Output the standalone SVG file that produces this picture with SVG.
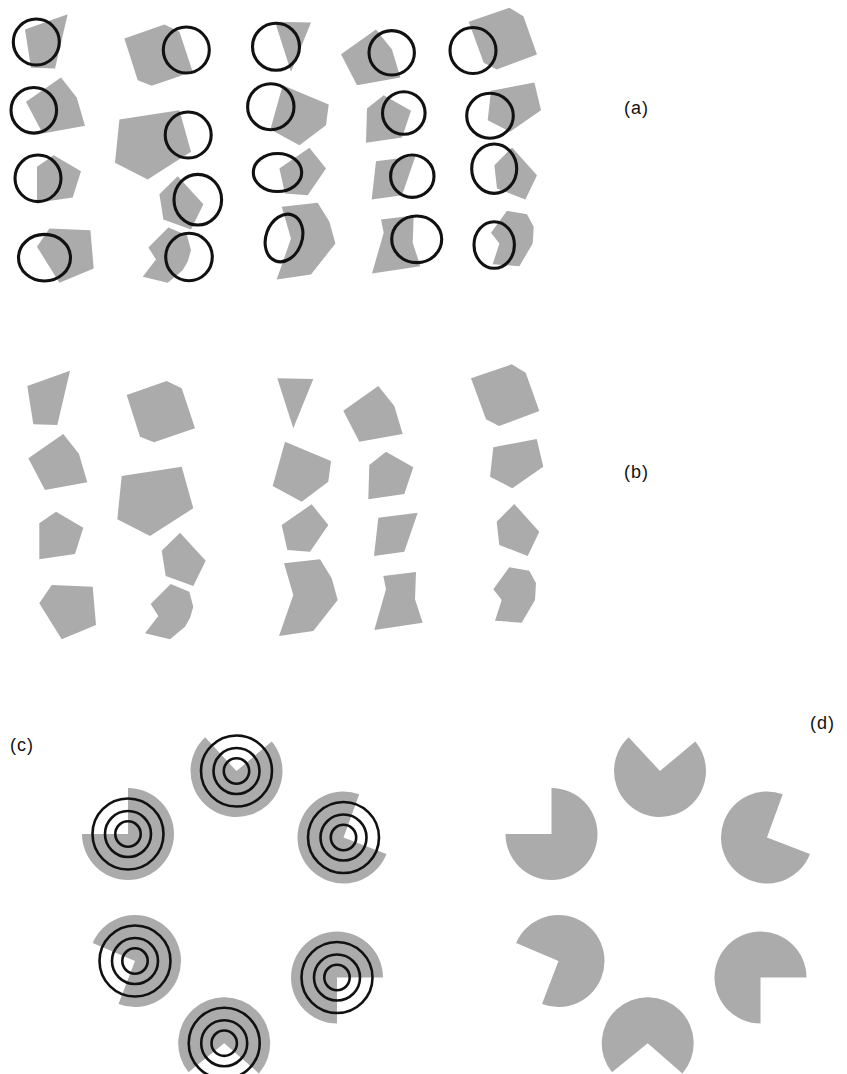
<svg xmlns="http://www.w3.org/2000/svg" xmlns:xlink="http://www.w3.org/1999/xlink" width="847" height="1074" viewBox="0 0 847 1074">
<style>
.sh{fill:#ababab;stroke:none}
.ring{fill:none;stroke:#111;stroke-width:2.6}
.oval{fill:none;stroke:#111;stroke-width:3.1}
.lbl{font-family:"Liberation Sans",Arial,sans-serif;font-size:18px;fill:#111;letter-spacing:1px}
</style>
<defs>
<g id="shapes">
<polygon class="sh" points="27.3,386 70,370.7 57.3,425 33.3,424.3"/>
<polygon class="sh" points="28.3,458.3 63.3,434 79,454 87.3,482.3 45,490"/>
<polygon class="sh" points="39.3,523.3 56,511.7 83.3,527.7 75,554 39.3,559.3"/>
<polygon class="sh" points="39.3,603.3 51.7,585 92.7,586.7 96,625 61.7,639.3"/>
<polygon class="sh" points="126.7,395 166.7,381 181.7,388.3 195,428.3 154,442.3 140,436.7"/>
<polygon class="sh" points="121.7,476 181.7,466.7 193.3,508.3 150,536 117.3,519.3"/>
<polygon class="sh" points="161.7,550.7 180,532.7 205.7,560.7 193.3,586 165.7,576"/>
<polygon class="sh" points="150.7,604 170.7,584 189.3,591.7 193.3,606.7 190,618 185,626.7 170,639.3 145,633.3 158.3,616"/>
<polygon class="sh" points="277.3,378.3 313.3,379 293.3,428.3"/>
<polygon class="sh" points="285,441.7 331,461 328.3,481.7 301.7,501.7 272.7,486"/>
<polygon class="sh" points="281.7,525 311.7,504.3 328.3,525 310,551.7 287.3,550"/>
<polygon class="sh" points="284,563.3 320,559.3 331.7,578.3 337.7,600 313.3,631 279,636 293.3,595"/>
<polygon class="sh" points="343.3,410.7 378.3,386 394.3,406 402.7,434 359.3,441.7"/>
<polygon class="sh" points="369.3,465 386,451.7 413.3,467.3 404.3,494 368.3,499.3"/>
<polygon class="sh" points="378.3,517.7 417.7,512.7 404.3,551.7 374,556"/>
<polygon class="sh" points="383.3,576 416,572 415,599.3 422.7,622.7 374.3,630 386,589.3"/>
<polygon class="sh" points="471,378.3 511.7,364.3 525.7,372.7 539.3,411 499,426 486,419.3"/>
<polygon class="sh" points="493.3,447.3 536.7,439 543.3,466.7 512.3,488.3 490,476.7"/>
<polygon class="sh" points="496.7,521.7 514.3,504 539.3,531.7 527.7,556 499.3,545"/>
<polygon class="sh" points="493.3,589.3 509.3,567.3 529.3,570.7 536,583.3 535,600 521.7,622.7 495,620.7 501.7,600"/>
</g>
<g id="pacmen">
<path class="sh" d="M660,771 L695.24,741.43 A46,46 0 1 1 628.63,737.36 Z"/>
<path class="sh" d="M551.5,834 L551.5,788 A46,46 0 1 1 505.5,834 Z"/>
<path class="sh" d="M767,837.5 L809.95,853.99 A46,46 0 1 1 782.73,794.27 Z"/>
<path class="sh" d="M558.5,961 L516.16,943.03 A46,46 0 1 1 542.01,1003.95 Z"/>
<path class="sh" d="M760.5,977.5 L760.5,1023.5 A46,46 0 1 1 806.5,977.5 Z"/>
<path class="sh" d="M647.7,1043.2 L611.95,1072.15 A46,46 0 1 1 682.42,1073.38 Z"/>
</g>
<g id="rings">
<circle r="35.5"/><circle r="23"/><circle r="12.7"/>
</g>
</defs>
<rect width="847" height="1074" fill="#fff"/>

<g id="panel-a">
<use xlink:href="#shapes" transform="translate(-2.3,-356.5)"/>
<g class="oval">
<ellipse cx="36.3" cy="42" rx="23" ry="23"/>
<ellipse cx="33.8" cy="110.3" rx="22.8" ry="22.8"/>
<ellipse cx="38" cy="178.3" rx="23" ry="23.3"/>
<ellipse cx="44.5" cy="257.7" rx="26" ry="23.3"/>
<ellipse cx="186.3" cy="50" rx="23" ry="23"/>
<ellipse cx="188.2" cy="135" rx="23" ry="23"/>
<ellipse cx="197.8" cy="199.7" rx="23.8" ry="25.3"/>
<ellipse cx="189" cy="257" rx="23.3" ry="23.7"/>
<ellipse cx="276" cy="46.7" rx="23.5" ry="23.5"/>
<ellipse cx="270.8" cy="106.7" rx="23.2" ry="23"/>
<ellipse cx="277.5" cy="172.5" rx="24.2" ry="19"/>
<ellipse cx="284" cy="238" rx="18" ry="24.5" transform="rotate(20 284 238)"/>
<ellipse cx="391.7" cy="52.8" rx="22.7" ry="22.2"/>
<ellipse cx="403.8" cy="113" rx="21.3" ry="21.3"/>
<ellipse cx="412.3" cy="176.2" rx="21.7" ry="21.2"/>
<ellipse cx="416.7" cy="239.3" rx="25" ry="23.3"/>
<ellipse cx="473" cy="50.5" rx="23" ry="23"/>
<ellipse cx="490" cy="115.8" rx="23.3" ry="22.5"/>
<ellipse cx="494.2" cy="168.7" rx="22.5" ry="24.7"/>
<ellipse cx="494.2" cy="245" rx="20.2" ry="23.3"/>
</g>
<text class="lbl" x="624" y="114">(a)</text>
</g>

<g id="panel-b">
<use xlink:href="#shapes"/>
<text class="lbl" x="624" y="478">(b)</text>
</g>

<g id="panel-c">
<use xlink:href="#pacmen" transform="translate(-423.5,0)"/>
<g class="ring">
<use xlink:href="#rings" transform="translate(236.5,771)"/>
<use xlink:href="#rings" transform="translate(128,834)"/>
<use xlink:href="#rings" transform="translate(343.5,837.5)"/>
<use xlink:href="#rings" transform="translate(135,961)"/>
<use xlink:href="#rings" transform="translate(337,977.5)"/>
<use xlink:href="#rings" transform="translate(224.2,1043.2)"/>
</g>
<text class="lbl" x="10" y="751">(c)</text>
</g>

<g id="panel-d">
<use xlink:href="#pacmen"/>
<text class="lbl" x="810" y="729">(d)</text>
</g>
</svg>
